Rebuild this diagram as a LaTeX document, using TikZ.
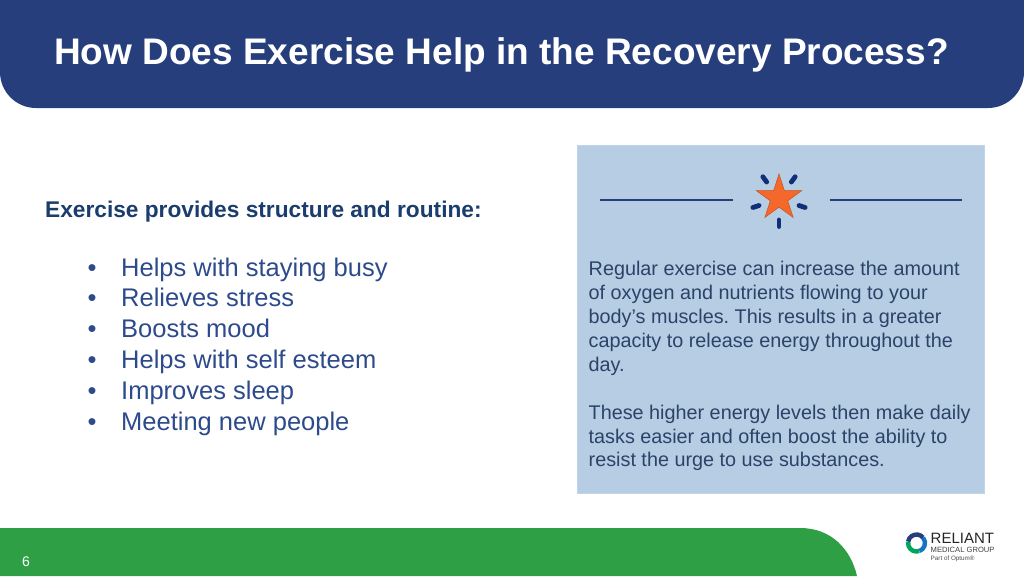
\documentclass[tikz,border=0pt]{standalone}
\usepackage{fontspec}
\setmainfont{Liberation Sans}
\usetikzlibrary{shapes.geometric}
\frenchspacing

\definecolor{headerblue}{HTML}{263E7C}
\definecolor{footgreen}{HTML}{2E9F45}
\definecolor{panelblue}{HTML}{B7CDE4}
\definecolor{leadblue}{HTML}{1B3D6D}
\definecolor{listblue}{HTML}{2D4A8C}
\definecolor{paneltext}{HTML}{2A4368}
\definecolor{starorange}{HTML}{F4692B}
\definecolor{tickblue}{HTML}{0F2F78}

\begin{document}
\begin{tikzpicture}[x=1pt,y=-1pt,
    every node/.style={inner sep=0pt,anchor=base west},
    listline/.style={text=listblue,font=\fontsize{25.5}{30}\selectfont},
    panelline/.style={text=paneltext,font=\fontsize{19.8}{24}\selectfont},
    rulebar/.style={draw=headerblue,line width=2.6pt},
    sparktick/.style={draw=tickblue,line width=4.8pt,line cap=round}]
    \useasboundingbox (0,0) rectangle (1024,576);

    % Header band
    \fill[headerblue] (0,0) -- (1024,0) -- (1024,72) arc[start angle=0,end angle=90,radius=36]
      -- (36,108) arc[start angle=90,end angle=180,radius=36] -- cycle;
    \node[text=white,font=\fontsize{37}{40}\bfseries\selectfont] (title) at (54,64)
      {How Does Exercise Help in the Recovery Process?};

    % Footer band
    \fill[footgreen] (0,576) -- (0,528) -- (800,528)
      .. controls (832,528) and (851,550) .. (857,576) -- cycle;
    \node[text=white,font=\fontsize{14}{16}\selectfont] (pagenum) at (22,566) {6};

    % Left column
    \node[text=leadblue,font=\fontsize{22.7}{26}\bfseries\selectfont] (lead) at (45,217)
      {Exercise provides structure and routine:};
    \foreach \t [count=\i] in {Helps with staying busy,Relieves stress,Boosts mood,
        Helps with self esteem,Improves sleep,Meeting new people} {
      \node[listline] (dot\i) at (87.5,{276+30.8*(\i-1)}) {•};
      \node[listline] (item\i) at (121,{276+30.8*(\i-1)}) {\t};
    }

    % Right panel
    \fill[panelblue,draw=panelblue!85!white,line width=0.8pt] (577.5,145.5) rectangle (984.5,493);
    \draw[rulebar] (600,200) -- (733,200);
    \draw[rulebar] (829.5,200) -- (962,200);

    % Star and its ticks
    \node[star,star points=5,star point ratio=2.618,minimum size=48pt,anchor=center,
      fill=starorange,draw=starorange!80!black,line width=0.5pt] (starmark) at (779,198) {};
    \foreach \a in {90,18,-54,-126,162} {
      \draw[sparktick] (779,199) ++(\a:21) -- ++(\a:6.5);
    }

    % Panel text
    \foreach \t/\y [count=\i] in {Regular exercise can increase the amount/275,
        of oxygen and nutrients flowing to your/299,
        body’s muscles. This results in a greater/323,
        capacity to release energy throughout the/347,
        day./371,
        These higher energy levels then make daily/419,
        tasks easier and often boost the ability to/443,
        resist the urge to use substances./466} {
      \node[panelline] (panel\i) at (588.5,\y) {\t};
    }

    % Logo
    \draw[color=cyan!55!blue,line width=4.4pt] (916.5,543) ++(-40:8.5)
      arc[start angle=-40,end angle=70,radius=8.5];
    \draw[color=teal!70!green,line width=4.4pt] (916.5,543) ++(70:8.5)
      arc[start angle=70,end angle=190,radius=8.5];
    \draw[color=headerblue,line width=4.4pt] (916.5,543) ++(190:8.5)
      arc[start angle=190,end angle=320,radius=8.5];
    \node[text=black!85,font=\fontsize{15}{18}\selectfont] (logoa) at (930.5,543) {RELIANT};
    \node[text=black!75,font=\fontsize{7.6}{9}\selectfont] (logob) at (930.5,552.5) {MEDICAL GROUP};
    \node[text=black!70,font=\fontsize{6.3}{8}\selectfont] (logoc) at (930.5,560.5) {Part of Optum®};
\end{tikzpicture}
\end{document}
